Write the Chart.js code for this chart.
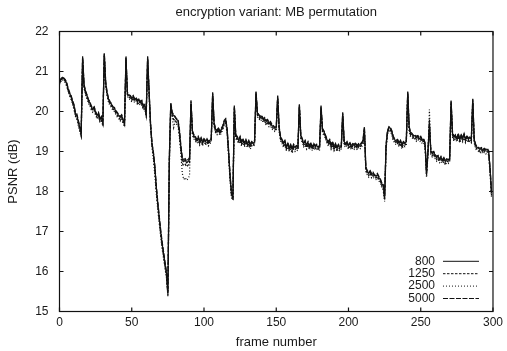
<!DOCTYPE html>
<html>
<head>
<meta charset="utf-8">
<script src="https://cdn.jsdelivr.net/npm/chart.js@4.4.1/dist/chart.umd.min.js"></script>
<style>
html, body { margin: 0; padding: 0; background: #fff; }
</style>
</head>
<body>
<canvas id="psnrChart" width="507" height="351"></canvas>
<script>
"use strict";

// frame numbers 0..299
const frames = Array.from({length: 300}, (_, i) => i);

const psnr800 = [
  20.72,20.80,20.85,20.82,20.78,20.70,20.55,20.45,20.38,20.25,20.15,19.95,19.90,19.75,19.60,
  19.45,21.35,20.65,20.50,20.40,20.28,20.22,20.12,20.05,20.10,19.98,19.90,19.95,19.80,19.85,
  19.72,21.45,20.70,20.45,20.30,20.22,20.18,20.10,20.08,20.00,19.95,19.90,19.85,19.90,19.78,
  19.70,21.35,20.45,20.40,20.38,20.32,20.38,20.30,20.33,20.25,20.30,20.22,20.25,20.12,20.15,
  19.95,21.35,20.50,19.70,19.20,18.95,18.60,18.10,17.70,17.35,17.00,16.70,16.45,16.20,15.95,
  15.45,18.80,20.20,19.95,19.90,19.85,19.80,19.78,19.50,19.10,18.80,18.75,18.78,18.72,18.75,
  18.80,20.25,19.50,19.40,19.35,19.28,19.35,19.25,19.32,19.22,19.30,19.25,19.30,19.22,19.28,
  19.30,20.45,19.70,19.55,19.50,19.58,19.48,19.55,19.62,19.75,19.80,19.55,19.00,18.40,17.95,
  17.85,20.12,19.40,19.35,19.28,19.35,19.22,19.30,19.20,19.28,19.18,19.25,19.15,19.22,19.20,
  19.25,20.48,19.95,19.90,19.85,19.88,19.80,19.82,19.75,19.78,19.70,19.72,19.65,19.62,19.58,
  19.60,20.37,19.60,19.35,19.28,19.20,19.25,19.10,19.20,19.08,19.15,19.05,19.15,19.10,19.12,
  19.10,20.16,19.40,19.30,19.20,19.25,19.15,19.22,19.12,19.20,19.10,19.18,19.12,19.15,19.10,
  19.12,20.12,19.55,19.50,19.40,19.30,19.22,19.28,19.15,19.22,19.10,19.18,19.08,19.15,19.10,
  19.12,19.95,19.25,19.18,19.22,19.15,19.20,19.12,19.18,19.15,19.20,19.12,19.18,19.15,19.20,
  19.25,19.58,18.60,18.50,18.45,18.50,18.42,18.45,18.40,18.38,18.42,18.35,18.30,18.20,18.15,
  17.85,19.15,19.50,19.60,19.58,19.50,19.35,19.30,19.25,19.28,19.20,19.25,19.15,19.22,19.20,
  19.25,20.48,19.60,19.45,19.42,19.38,19.40,19.35,19.38,19.32,19.35,19.28,19.30,19.20,18.45,
  19.00,19.65,19.00,18.95,18.98,18.90,18.85,18.88,18.80,18.85,18.78,18.82,18.75,18.80,18.78,
  18.80,20.25,19.45,19.35,19.40,19.32,19.42,19.30,19.40,19.32,19.42,19.30,19.38,19.30,19.35,
  19.30,20.30,19.30,19.15,19.10,19.08,19.05,19.08,19.02,19.06,19.03,19.05,19.00,18.55,17.95
];

const psnr1250 = [
  20.70,20.78,20.82,20.80,20.75,20.66,20.52,20.42,20.35,20.22,20.10,19.92,19.85,19.70,19.55,
  19.40,21.30,20.60,20.46,20.36,20.25,20.18,20.08,20.02,20.05,19.94,19.85,19.90,19.76,19.80,
  19.68,21.40,20.65,20.42,20.26,20.18,20.14,20.06,20.04,19.96,19.90,19.86,19.80,19.85,19.74,
  19.66,21.30,20.42,20.36,20.34,20.28,20.34,20.26,20.30,20.20,20.26,20.18,20.20,20.08,20.10,
  19.90,21.30,20.45,19.65,19.15,18.90,18.55,18.05,17.65,17.30,16.95,16.65,16.40,16.15,15.90,
  15.40,18.70,20.15,19.90,19.80,19.80,19.72,19.70,19.42,19.05,18.70,18.65,18.68,18.62,18.66,
  18.70,20.20,19.45,19.36,19.30,19.24,19.30,19.20,19.28,19.18,19.26,19.20,19.26,19.18,19.24,
  19.26,20.40,19.65,19.50,19.46,19.54,19.44,19.50,19.58,19.70,19.75,19.50,18.95,18.35,17.90,
  17.80,20.08,19.36,19.30,19.24,19.30,19.18,19.26,19.16,19.24,19.14,19.20,19.10,19.18,19.16,
  19.20,20.44,19.90,19.86,19.80,19.84,19.76,19.78,19.70,19.74,19.66,19.68,19.60,19.58,19.54,
  19.56,20.33,19.55,19.30,19.24,19.15,19.20,19.06,19.16,19.04,19.10,19.00,19.10,19.05,19.08,
  19.06,20.12,19.36,19.26,19.16,19.20,19.10,19.18,19.08,19.16,19.06,19.14,19.08,19.10,19.06,
  19.08,20.08,19.50,19.45,19.36,19.26,19.18,19.24,19.10,19.18,19.06,19.14,19.04,19.10,19.06,
  19.08,19.90,19.20,19.14,19.18,19.10,19.16,19.08,19.14,19.10,19.16,19.08,19.14,19.10,19.16,
  19.20,19.55,18.55,18.46,18.40,18.46,18.38,18.40,18.36,18.34,18.38,18.30,18.26,18.15,18.10,
  17.80,19.10,19.45,19.56,19.54,19.46,19.30,19.26,19.20,19.24,19.16,19.20,19.10,19.18,19.16,
  19.20,20.44,19.55,19.40,19.38,19.34,19.36,19.30,19.34,19.28,19.30,19.24,19.26,19.15,18.40,
  18.95,19.80,18.95,18.90,18.94,18.86,18.80,18.84,18.76,18.80,18.74,18.78,18.70,18.76,18.74,
  18.76,20.20,19.40,19.30,19.36,19.28,19.38,19.26,19.36,19.28,19.38,19.26,19.34,19.26,19.30,
  19.26,20.26,19.26,19.10,19.06,19.04,19.00,19.04,18.98,19.02,18.98,19.00,18.96,18.50,17.90
];

const psnr2500 = [
  20.68,20.75,20.80,20.76,20.72,20.62,20.50,20.38,20.30,20.18,20.05,19.88,19.82,19.65,19.50,
  19.38,21.28,20.58,20.42,20.32,20.20,20.15,20.04,19.98,20.02,19.90,19.82,19.86,19.72,19.76,
  19.64,21.38,20.62,20.38,20.22,20.14,20.10,20.02,20.00,19.92,19.86,19.82,19.76,19.82,19.70,
  19.62,21.28,20.38,20.32,20.30,20.24,20.30,20.22,20.26,20.16,20.22,20.14,20.16,20.04,20.06,
  19.85,21.28,20.40,19.60,19.10,18.80,18.40,17.95,17.55,17.20,16.88,16.58,16.32,16.08,15.85,
  15.38,18.60,20.10,19.85,19.60,19.75,19.68,19.65,19.35,18.95,18.45,18.30,18.35,18.28,18.32,
  18.40,20.18,19.40,19.32,19.26,19.20,19.26,19.16,19.24,19.14,19.22,19.16,19.22,19.14,19.20,
  19.22,20.38,19.62,19.46,19.42,19.50,19.40,19.46,19.54,19.66,19.70,19.45,18.90,18.30,17.85,
  17.78,20.05,19.32,19.26,19.20,19.26,19.14,19.22,19.12,19.20,19.10,19.16,19.06,19.14,19.12,
  19.16,20.40,19.86,19.82,19.76,19.80,19.72,19.74,19.66,19.70,19.62,19.64,19.56,19.54,19.50,
  19.52,20.30,19.50,19.26,19.20,19.10,19.16,19.02,19.12,19.00,19.06,18.96,19.06,19.00,19.04,
  19.02,20.10,19.32,19.22,19.12,19.16,19.06,19.14,19.04,19.12,19.02,19.10,19.04,19.06,19.02,
  19.04,20.05,19.46,19.40,19.32,19.22,19.14,19.20,19.06,19.14,19.02,19.10,19.00,19.06,19.02,
  19.04,19.88,19.16,19.10,19.14,19.06,19.12,19.04,19.10,19.06,19.12,19.04,19.10,19.06,19.12,
  19.16,19.52,18.50,18.42,18.36,18.42,18.34,18.36,18.32,18.30,18.34,18.26,18.22,18.10,18.05,
  17.75,19.05,19.42,19.52,19.50,19.42,19.26,19.22,19.16,19.20,19.12,19.16,19.06,19.14,19.12,
  19.16,20.40,19.50,19.36,19.34,19.30,19.32,19.26,19.30,19.24,19.26,19.20,19.22,19.10,18.35,
  18.90,20.05,18.90,18.86,18.90,18.82,18.76,18.80,18.72,18.76,18.70,18.74,18.66,18.72,18.70,
  18.72,20.18,19.36,19.26,19.32,19.24,19.34,19.22,19.32,19.24,19.34,19.22,19.30,19.22,19.26,
  19.22,20.22,19.22,19.06,19.02,19.00,18.96,19.00,18.94,18.98,18.94,18.96,18.92,18.45,17.85
];

const psnr5000 = [
  20.74,20.82,20.86,20.84,20.80,20.72,20.58,20.48,20.40,20.28,20.18,19.98,19.94,19.78,19.64,
  19.48,21.38,20.68,20.52,20.42,20.30,20.25,20.14,20.08,20.12,20.00,19.92,19.98,19.82,19.88,
  19.75,21.46,20.72,20.48,20.32,20.25,20.20,20.12,20.10,20.02,19.98,19.92,19.88,19.92,19.80,
  19.72,21.38,20.48,20.42,20.40,20.34,20.40,20.32,20.35,20.28,20.32,20.25,20.28,20.15,20.18,
  19.98,21.38,20.52,19.72,19.22,18.98,18.65,18.15,17.75,17.40,17.05,16.75,16.50,16.25,16.00,
  15.50,18.85,20.22,19.98,19.92,19.88,19.82,19.80,19.55,19.15,18.85,18.80,18.82,18.76,18.80,
  18.85,20.28,19.52,19.42,19.38,19.30,19.38,19.28,19.35,19.25,19.32,19.28,19.32,19.25,19.30,
  19.32,20.48,19.72,19.58,19.52,19.60,19.50,19.58,19.65,19.78,19.82,19.58,19.05,18.45,18.00,
  17.88,20.15,19.42,19.38,19.30,19.38,19.25,19.32,19.22,19.30,19.20,19.28,19.18,19.25,19.22,
  19.28,20.50,19.98,19.92,19.88,19.90,19.82,19.85,19.78,19.80,19.72,19.75,19.68,19.65,19.60,
  19.62,20.40,19.62,19.38,19.30,19.22,19.28,19.12,19.22,19.10,19.18,19.08,19.18,19.12,19.15,
  19.12,20.18,19.42,19.32,19.22,19.28,19.18,19.25,19.15,19.22,19.12,19.20,19.15,19.18,19.12,
  19.15,20.15,19.58,19.52,19.42,19.32,19.25,19.30,19.18,19.25,19.12,19.20,19.10,19.18,19.12,
  19.15,19.98,19.28,19.20,19.25,19.18,19.22,19.15,19.20,19.18,19.22,19.15,19.20,19.18,19.22,
  19.28,19.62,18.62,18.52,18.48,18.52,18.45,18.48,18.42,18.40,18.45,18.38,18.32,18.22,18.18,
  17.88,19.18,19.52,19.62,19.60,19.52,19.38,19.32,19.28,19.30,19.22,19.28,19.18,19.25,19.22,
  19.28,20.50,19.62,19.48,19.45,19.40,19.42,19.38,19.40,19.35,19.38,19.30,19.32,19.22,18.48,
  19.02,19.70,19.02,18.98,19.00,18.92,18.88,18.90,18.82,18.88,18.80,18.85,18.78,18.82,18.80,
  18.82,20.28,19.48,19.38,19.42,19.35,19.45,19.32,19.42,19.35,19.45,19.32,19.40,19.32,19.38,
  19.32,20.32,19.32,19.18,19.12,19.10,19.08,19.10,19.05,19.08,19.05,19.08,19.02,18.60,18.00
];

const seriesNames = ['800', '1250', '2500', '5000'];
const xTicks = [0, 50, 100, 150, 200, 250, 300];
const yTicks = [15, 16, 17, 18, 19, 20, 21, 22];

const inkColor = '#111';
const textColor = '#1a1a1a';
const fontFamily = '"Liberation Sans", Arial, Helvetica, sans-serif';
const dashes = [[], [2.5, 1.5], [1, 2], [5, 1.5]];

// gnuplot style box, inward ticks on all sides, and legend (title left of sample)
const gnuplotFrame = {
    id: 'gnuplotFrame',
    afterDatasetsDraw(chart) {
        const {ctx, chartArea: a, scales} = chart;
        const tick = 4;
        ctx.save();
        ctx.strokeStyle = inkColor;
        ctx.lineWidth = 1.2;
        ctx.setLineDash([]);
        ctx.strokeRect(a.left, a.top, a.right - a.left, a.bottom - a.top);
        ctx.beginPath();
        xTicks.forEach((v) => {
            const px = scales.x.getPixelForValue(v);
            ctx.moveTo(px, a.bottom); ctx.lineTo(px, a.bottom - tick);
            ctx.moveTo(px, a.top); ctx.lineTo(px, a.top + tick);
        });
        yTicks.forEach((v) => {
            const py = scales.y.getPixelForValue(v);
            ctx.moveTo(a.left, py); ctx.lineTo(a.left + tick, py);
            ctx.moveTo(a.right, py); ctx.lineTo(a.right - tick, py);
        });
        ctx.stroke();

        // legend
        ctx.font = '12px ' + fontFamily;
        ctx.fillStyle = textColor;
        ctx.textAlign = 'right';
        ctx.textBaseline = 'middle';
        ctx.lineWidth = 1;
        const n = chart.data.datasets.length;
        chart.data.datasets.forEach((ds, i) => {
            const y = a.bottom - 13 - (n - 1 - i) * 12.4;
            ctx.fillText(ds.label, a.right - 58, y);
            ctx.beginPath();
            ctx.setLineDash(ds.borderDash || []);
            ctx.moveTo(a.right - 50, y);
            ctx.lineTo(a.right - 14, y);
            ctx.stroke();
        });
        ctx.restore();
    }
};

const allSeries = [psnr800, psnr1250, psnr2500, psnr5000];

const ctx = document.getElementById('psnrChart').getContext('2d');

new Chart(ctx, {
    type: 'line',
    data: {
        labels: frames,
        datasets: allSeries.map((vals, i) => ({
            label: seriesNames[i],
            data: vals,
            borderColor: inkColor,
            borderWidth: 1.25,
            borderDash: dashes[i],
            pointRadius: 0,
            tension: 0,
            fill: false
        }))
    },
    options: {
        responsive: false,
        animation: false,
        devicePixelRatio: 1,
        layout: {
            padding: { left: 0, right: 13.5, top: 0, bottom: 0 }
        },
        plugins: {
            legend: { display: false },
            tooltip: { enabled: false },
            title: {
                display: true,
                fullSize: false,
                text: 'encryption variant: MB permutation',
                color: textColor,
                font: { family: fontFamily, size: 13, weight: 'normal', lineHeight: '13px' },
                padding: { top: 5.5, bottom: 13 }
            }
        },
        scales: {
            x: {
                type: 'linear',
                min: 0,
                max: 300,
                afterBuildTicks: (s) => { s.ticks = xTicks.map((v) => ({ value: v })); },
                afterFit: (s) => { s.height = 39.5; },
                grid: { display: false, drawTicks: false },
                border: { display: false },
                ticks: {
                    color: textColor,
                    font: { family: fontFamily, size: 12 },
                    padding: 4,
                    maxRotation: 0,
                    autoSkip: false
                },
                title: {
                    display: true,
                    text: 'frame number',
                    color: textColor,
                    font: { family: fontFamily, size: 13, lineHeight: '13px' },
                    padding: { top: 0, bottom: 2.5 }
                }
            },
            y: {
                type: 'linear',
                min: 15,
                max: 22,
                afterBuildTicks: (s) => { s.ticks = yTicks.map((v) => ({ value: v })); },
                afterFit: (s) => { s.width = 59.5; },
                grid: { display: false, drawTicks: false },
                border: { display: false },
                ticks: {
                    color: textColor,
                    font: { family: fontFamily, size: 12 },
                    padding: 11
                },
                title: {
                    display: true,
                    text: 'PSNR (dB)',
                    color: textColor,
                    font: { family: fontFamily, size: 13, lineHeight: '13px' },
                    padding: { top: 6.5, bottom: 0 }
                }
            }
        }
    },
    plugins: [gnuplotFrame]
});
</script>
</body>
</html>
